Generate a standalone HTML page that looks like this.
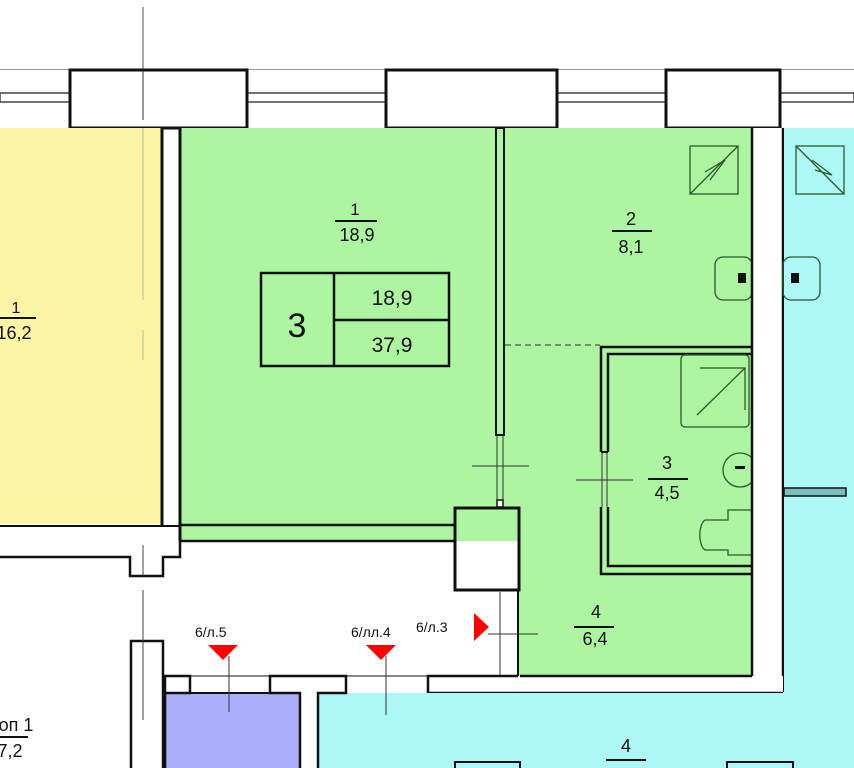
<!DOCTYPE html>
<html><head><meta charset="utf-8"><style>
html,body{margin:0;padding:0;background:#fff;width:854px;height:768px;overflow:hidden}
svg{display:block}
text{font-family:"Liberation Sans","DejaVu Sans",sans-serif;fill:#111}
</style></head><body>
<svg width="854" height="768" viewBox="0 0 854 768" xmlns="http://www.w3.org/2000/svg">
<rect width="854" height="768" fill="#fff"/>
<line x1="143" y1="7" x2="143" y2="70" stroke="#555" stroke-width="1"/>
<line x1="0" y1="70" x2="854" y2="70" stroke="#999" stroke-width="2"/>
<rect x="0" y="70" width="854" height="58" fill="#fff"/>
<g stroke="#444" stroke-width="1.5" fill="#fff">
<rect x="0" y="93" width="70" height="9"/><rect x="247" y="93" width="139" height="9"/>
<rect x="557" y="93" width="109" height="9"/><rect x="780" y="93" width="74" height="9"/>
</g>
<g stroke="#111" stroke-width="3" fill="#fff">
<rect x="70" y="70" width="177" height="58"/><rect x="386" y="70" width="171" height="58"/><rect x="666" y="70" width="114" height="58"/>
</g>
<line x1="143" y1="70" x2="143" y2="120" stroke="#333" stroke-width="1"/>
<rect x="0" y="128" width="162" height="396" fill="#fdf5a6"/>
<line x1="162" y1="128" x2="162" y2="526" stroke="#111" stroke-width="3"/>
<line x1="143" y1="128" x2="143" y2="300" stroke="#bba" stroke-width="1"/>
<line x1="143" y1="330" x2="143" y2="360" stroke="#bba" stroke-width="1"/>
<text x="16" y="313" font-size="16" text-anchor="middle">1</text>
<line x1="0" y1="318" x2="36" y2="318" stroke="#111" stroke-width="2"/>
<text x="14" y="339" font-size="18" text-anchor="middle">16,2</text>
<rect x="180" y="128" width="318" height="413" fill="#aef5a2"/>
<line x1="180" y1="128" x2="180" y2="541" stroke="#111" stroke-width="3"/>
<line x1="180" y1="525" x2="455" y2="525" stroke="#111" stroke-width="2.5"/>
<line x1="180" y1="541" x2="455" y2="541" stroke="#111" stroke-width="2.5"/>
<line x1="0" y1="526" x2="180" y2="526" stroke="#111" stroke-width="2"/>
<path d="M0 557 H130 V576 H163 V557 H180 V541" fill="none" stroke="#111" stroke-width="2.5"/>
<rect x="498" y="128" width="254" height="547" fill="#aef5a2"/>
<rect x="455" y="541" width="65" height="50" fill="#fff"/>
<rect x="498" y="590" width="20" height="86" fill="#fff"/>
<rect x="496" y="128" width="8" height="307" fill="#aef5a2" stroke="#111" stroke-width="2"/>
<line x1="497" y1="435" x2="497" y2="500" stroke="#333" stroke-width="1"/>
<line x1="503" y1="435" x2="503" y2="500" stroke="#333" stroke-width="1"/>
<rect x="497" y="500" width="6" height="7" fill="#fff" stroke="#111" stroke-width="1.5"/>
<line x1="472" y1="466" x2="529" y2="466" stroke="#333" stroke-width="1"/>
<rect x="455" y="508" width="64" height="82" fill="none" stroke="#111" stroke-width="3"/>
<line x1="518" y1="590" x2="518" y2="676" stroke="#111" stroke-width="2"/>
<line x1="500" y1="592" x2="500" y2="676" stroke="#333" stroke-width="1"/>
<line x1="505" y1="345" x2="600" y2="345" stroke="#333" stroke-width="1" stroke-dasharray="6,4"/>
<path d="M752 347 H601 V452" fill="none" stroke="#111" stroke-width="2.5"/>
<path d="M752 354 H608 V452" fill="none" stroke="#111" stroke-width="2.5"/>
<line x1="601" y1="452" x2="608" y2="452" stroke="#111" stroke-width="2"/>
<line x1="602" y1="452" x2="602" y2="507" stroke="#333" stroke-width="1"/>
<line x1="607" y1="452" x2="607" y2="507" stroke="#333" stroke-width="1"/>
<path d="M601 507 V574 H752" fill="none" stroke="#111" stroke-width="2.5"/>
<path d="M608 507 V566 H752" fill="none" stroke="#111" stroke-width="2.5"/>
<line x1="576" y1="480" x2="633" y2="480" stroke="#333" stroke-width="1"/>
<g fill="none" stroke="#2a5a2a" stroke-width="1.3">
<rect x="690" y="146" width="48" height="48"/><path d="M690 194 L738 146 M705 172 L725 160 L710 180"/>
<rect x="715" y="257" width="37" height="43" rx="8"/>
<rect x="681" y="355" width="68" height="72" rx="4"/><path d="M697 415 L745 368 M700 368 H745 V410"/>
<circle cx="740" cy="470" r="17"/>
<path d="M752 510 H728 V520 H705 C698 525 698 545 705 550 H728 V555 H752"/>
</g>
<g fill="#111"><rect x="738" y="273" width="8" height="10"/><rect x="735" y="466" width="10" height="3"/></g>
<rect x="752" y="128" width="31" height="564" fill="#fff"/>
<line x1="752" y1="128" x2="752" y2="676" stroke="#111" stroke-width="2.5"/>
<line x1="783" y1="128" x2="783" y2="692" stroke="#111" stroke-width="2.5"/>
<rect x="784" y="128" width="70" height="640" fill="#aef8f8"/>
<rect x="796" y="146" width="48" height="48" fill="none" stroke="#2a5a2a" stroke-width="1.3"/>
<path d="M796 146 L844 194 M812 160 L832 175 L815 170" fill="none" stroke="#2a5a2a" stroke-width="1.3"/>
<rect x="783" y="257" width="37" height="43" rx="8" fill="none" stroke="#2a5a2a" stroke-width="1.3"/>
<rect x="791" y="273" width="8" height="10" fill="#111"/>
<rect x="784" y="488" width="62" height="8" fill="#7bbcbc" stroke="#111" stroke-width="1.5"/>
<rect x="428" y="676" width="355" height="17" fill="#fff"/>
<path d="M428 693 V676 H518 M520 676 H752" fill="none" stroke="#111" stroke-width="2.5"/>
<line x1="428" y1="693" x2="783" y2="693" stroke="#111" stroke-width="2.5"/>
<line x1="165" y1="676" x2="428" y2="676" stroke="#111" stroke-width="1"/>
<rect x="318" y="693" width="536" height="75" fill="#aef8f8"/>
<rect x="165" y="693" width="135" height="75" fill="#aaaef8"/>
<path d="M165 768 V676 H190 V693 H165" fill="none" stroke="#111" stroke-width="2.5"/>
<path d="M300 768 V693 H270 V676 H346 V693 H318 V768" fill="none" stroke="#111" stroke-width="2.5"/>
<line x1="300" y1="693" x2="165" y2="693" stroke="#111" stroke-width="2"/>
<rect x="131" y="641" width="32" height="140" fill="#fff" stroke="#111" stroke-width="2.5"/>
<line x1="143" y1="590" x2="143" y2="720" stroke="#444" stroke-width="1"/>
<line x1="143" y1="545" x2="143" y2="575" stroke="#444" stroke-width="1"/>
<g fill="#aef8f8" stroke="#111" stroke-width="2"><rect x="455" y="762" width="65" height="12"/><rect x="727" y="762" width="66" height="12"/></g>
<text x="626" y="752" font-size="18" text-anchor="middle">4</text>
<line x1="606" y1="760" x2="646" y2="760" stroke="#111" stroke-width="2"/>
<text x="16" y="731" font-size="18" text-anchor="middle">оп 1</text>
<line x1="0" y1="737" x2="28" y2="737" stroke="#111" stroke-width="2"/>
<text x="10" y="757" font-size="18" text-anchor="middle">7,2</text>
<g fill="#f00"><path d="M208 645 H238 L223 660Z"/><path d="M366 645 H396 L381 660Z"/><path d="M474 613 V641 L489 627Z"/></g>
<g stroke="#333" stroke-width="1"><line x1="229" y1="656" x2="229" y2="712"/><line x1="386" y1="656" x2="386" y2="715"/><line x1="488" y1="634" x2="538" y2="634"/></g>
<g font-size="14"><text x="195" y="637">6/л.5</text><text x="351" y="637">6/лл.4</text><text x="416" y="632">6/л.3</text></g>
<text x="355" y="215" font-size="17" text-anchor="middle">1</text>
<line x1="335" y1="221" x2="377" y2="221" stroke="#111" stroke-width="2"/>
<text x="357" y="241" font-size="18" text-anchor="middle">18,9</text>
<text x="631" y="225" font-size="18" text-anchor="middle">2</text>
<line x1="612" y1="231" x2="652" y2="231" stroke="#111" stroke-width="2"/>
<text x="631" y="253" font-size="18" text-anchor="middle">8,1</text>
<text x="667" y="469" font-size="18" text-anchor="middle">3</text>
<line x1="648" y1="479" x2="688" y2="479" stroke="#111" stroke-width="2"/>
<text x="667" y="499" font-size="18" text-anchor="middle">4,5</text>
<text x="596" y="618" font-size="18" text-anchor="middle">4</text>
<line x1="574" y1="627" x2="614" y2="627" stroke="#111" stroke-width="2"/>
<text x="595" y="645" font-size="18" text-anchor="middle">6,4</text>
<g fill="none" stroke="#111" stroke-width="2.5">
<rect x="261" y="273" width="188" height="93"/><line x1="334" y1="273" x2="334" y2="366"/><line x1="334" y1="320" x2="449" y2="320"/>
</g>
<text x="297" y="337" font-size="34" text-anchor="middle">3</text>
<text x="392" y="305" font-size="21" text-anchor="middle">18,9</text>
<text x="392" y="352" font-size="21" text-anchor="middle">37,9</text>
</svg>
</body></html>
